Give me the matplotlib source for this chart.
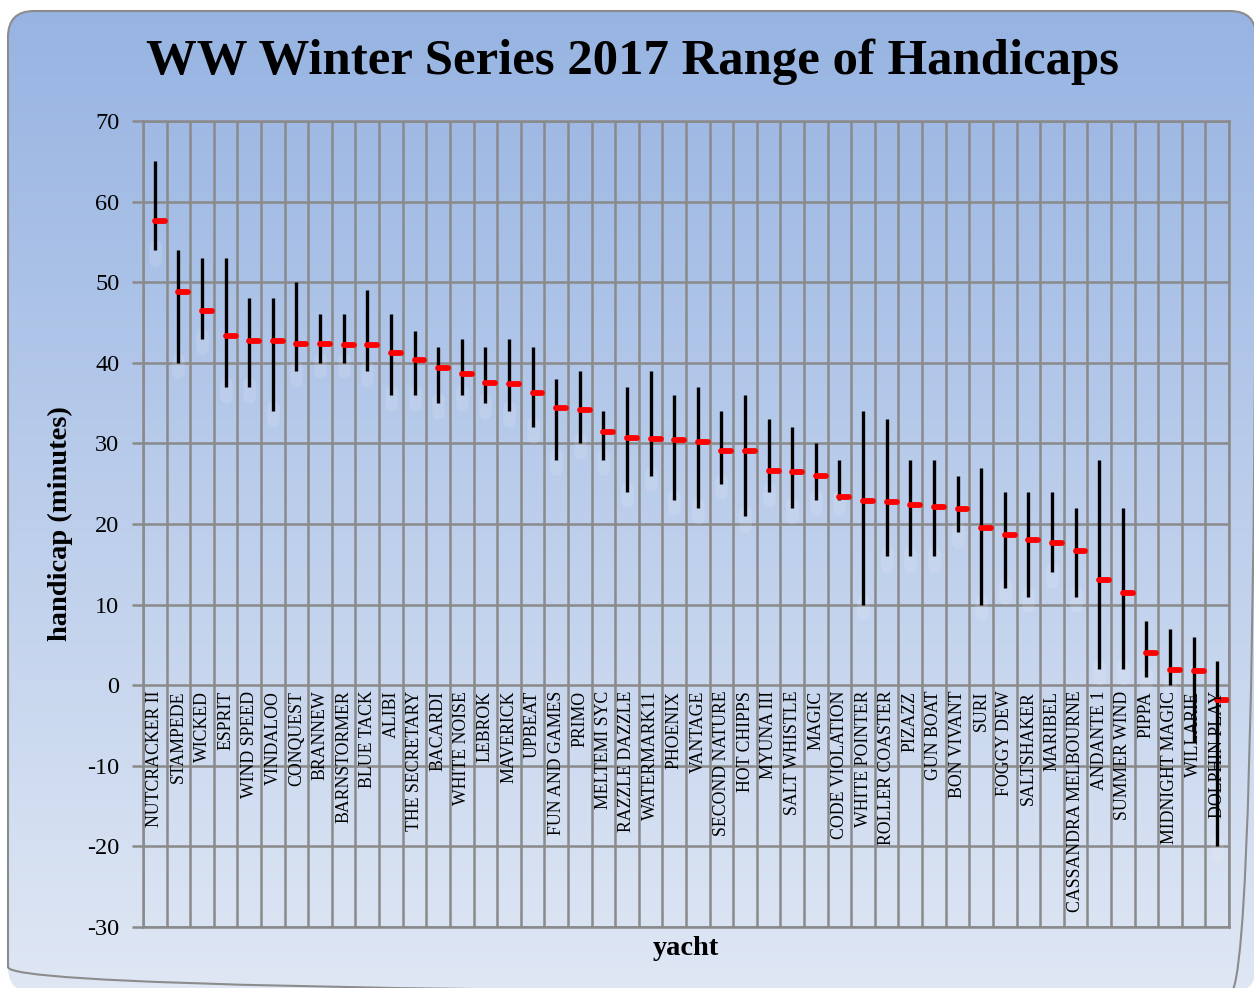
import numpy as np
import matplotlib
matplotlib.use('Agg')
import matplotlib.pyplot as plt
from matplotlib.patches import FancyBboxPatch

# yachts and handicap ranges (minutes)
yachts = ['NUTCRACKER II', 'STAMPEDE', 'WICKED', 'ESPRIT', 'WIND SPEED', 'VINDALOO',
          'CONQUEST', 'BRANNEW', 'BARNSTORMER', 'BLUE TACK', 'ALIBI', 'THE SECRETARY',
          'BACARDI', 'WHITE NOISE', 'LEBROK', 'MAVERICK', 'UPBEAT', 'FUN AND GAMES',
          'PRIMO', 'MELTEMI SYC', 'RAZZLE DAZZLE', 'WATERMARK11', 'PHOENIX', 'VANTAGE',
          'SECOND NATURE', 'HOT CHIPPS', 'MYUNA III', 'SALT WHISTLE', 'MAGIC',
          'CODE VIOLATION', 'WHITE POINTER', 'ROLLER COASTER', 'PIZAZZ', 'GUN BOAT',
          'BON VIVANT', 'SURI', 'FOGGY DEW', 'SALTSHAKER', 'MARIBEL',
          'CASSANDRA MELBOURNE', 'ANDANTE 1', 'SUMMER WIND', 'PIPPA', 'MIDNIGHT MAGIC',
          'WILLARIE', 'DOLPHIN PLAY']
high = [65, 54, 53, 53, 48, 48, 50, 46, 46, 49, 46, 44, 42, 43, 42, 43, 42, 38, 39, 34,
        37, 39, 36, 37, 34, 36, 33, 32, 30, 28, 34, 33, 28, 28, 26, 27, 24, 24, 24, 22,
        28, 22, 8, 7, 6, 3]
low = [54, 40, 43, 37, 37, 34, 39, 40, 40, 39, 36, 36, 35, 36, 35, 34, 32, 28, 30, 28,
       24, 26, 23, 22, 25, 21, 24, 22, 23, 23, 10, 16, 16, 16, 19, 10, 12, 11, 14, 11,
       2, 2, 1, 0, -7, -20]
close = [57.6, 48.8, 46.4, 43.3, 42.7, 42.7, 42.3, 42.3, 42.2, 42.2, 41.2, 40.3, 39.3,
         38.6, 37.5, 37.4, 36.3, 34.4, 34.1, 31.4, 30.7, 30.6, 30.4, 30.2, 29.1, 29.0,
         26.6, 26.4, 26.0, 23.3, 22.9, 22.7, 22.3, 22.1, 21.9, 19.5, 18.6, 18.0, 17.7,
         16.6, 13.1, 11.4, 4.0, 1.9, 1.7, -1.8]
yticks = list(range(-30, 71, 10))

W, H = 1254, 988
fig = plt.figure(figsize=(W / 100, H / 100), dpi=100)
fig.patch.set_facecolor('white')

# gradient background inside a rounded box
bg = fig.add_axes([0, 0, 1, 1])
bg.set_xlim(0, W)
bg.set_ylim(H, 0)
bg.axis('off')
top_c = np.array([150, 179, 226]) / 255
bot_c = np.array([223, 231, 244]) / 255
t = np.linspace(0, 1, 256)[:, None]
grad = (top_c * (1 - t) + bot_c * t)[:, None, :]
img = bg.imshow(grad, extent=[0, W, H, 0], aspect='auto', zorder=0)
box = FancyBboxPatch((8, 11), 1248, 982, boxstyle='round,pad=0,rounding_size=26',
                     facecolor='none', edgecolor='#8c8c8c', lw=1.5, zorder=1)
bg.add_patch(box)
img.set_clip_path(box)

ax = fig.add_axes([143 / W, 1 - 927 / H, (1229 - 143) / W, (927 - 121) / H])
ax.set_facecolor('none')
x = np.arange(len(yachts))
ax.set_xlim(-0.5, len(yachts) - 0.5)
ax.set_ylim(-30, 70)

grid_c = '#8a8a8a'
ax.set_yticks(yticks)
ax.set_yticklabels([str(v) for v in yticks], fontsize=17.5, family='Liberation Serif')
ax.tick_params(axis='y', length=8, width=1.8, color=grid_c, pad=9)
ax.set_xticks(np.arange(-0.5, len(yachts), 1.0))
ax.set_xticklabels([])
ax.tick_params(axis='x', length=0)
ax.grid(True, color=grid_c, lw=1.8)
ax.set_axisbelow(True)
for s in ax.spines.values():
    s.set_color(grid_c)
    s.set_linewidth(1.8)

# faint glow under each range bar
for xi, lo in zip(x, low):
    ax.plot([xi, xi], [lo - 1.2, lo + 0.5], color='white', lw=9, alpha=0.12,
            solid_capstyle='round', zorder=2)

ax.vlines(x, low, high, colors='black', lw=2.4, zorder=3)
ax.hlines(close, x, x + 0.42, colors='#ff0000', lw=4.2, capstyle='round', zorder=4)

for xi, name in zip(x, yachts):
    ax.text(xi, -0.7, name, rotation=90, ha='center', va='top', fontsize=12.8,
            family='Liberation Serif', zorder=5)

fig.text(632 / W, 1 - 62 / H, 'WW Winter Series 2017 Range of Handicaps',
         ha='center', va='center', fontsize=36.5, fontweight='bold', family='Liberation Serif')
fig.text(60 / W, 1 - 524 / H, 'handicap (minutes)', rotation=90, ha='center', va='center',
         fontsize=20.5, fontweight='bold', family='Liberation Serif')
fig.text(686 / W, 1 - 948 / H, 'yacht', ha='center', va='center',
         fontsize=20.5, fontweight='bold', family='Liberation Serif')

fig.savefig('out.png', dpi=100)
